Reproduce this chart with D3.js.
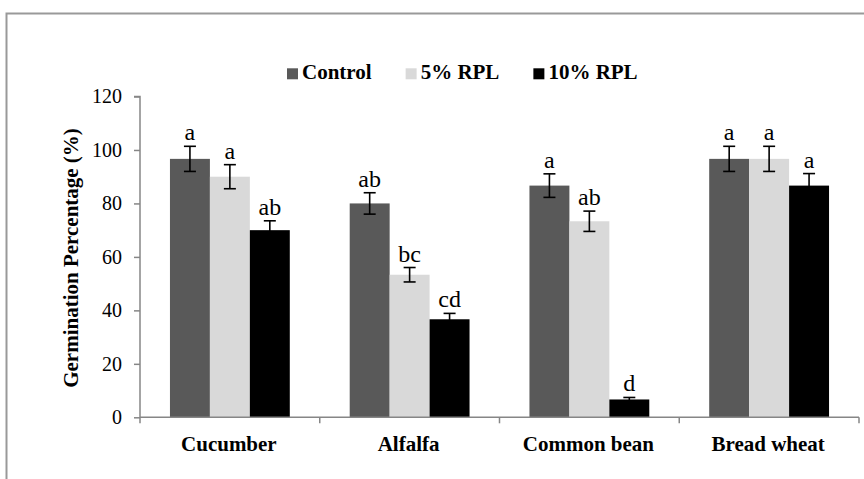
<!DOCTYPE html>
<head>
  <meta charset="utf-8">
  <script src="https://cdn.jsdelivr.net/npm/d3@7"></script>
  <style>
    body { margin:0; background:#fff; }
  </style>
</head>

<body>
  <script>
    // data
    let crops = ["Cucumber", "Alfalfa", "Common bean", "Bread wheat"];
    let series = ["Control", "5% RPL", "10% RPL"];
    let control = [96.67, 80, 86.67, 96.67];
    let rpl5 = [90, 53.33, 73.33, 96.67];
    let rpl10 = [70, 36.67, 6.67, 86.67];
    let errControl = [4.7, 4.0, 4.4, 4.7];
    let errRpl5 = [4.5, 2.7, 3.8, 4.7];
    let errRpl10 = [3.5, 2.2, 0.75, 4.5];
    let lettersControl = ["a", "ab", "a", "a"];
    let lettersRpl5 = ["a", "bc", "ab", "a"];
    let lettersRpl10 = ["ab", "cd", "d", "a"];
    let yTicks = [0, 20, 40, 60, 80, 100, 120];

    let width = 864,
        height = 479;
    let serif = "'Liberation Serif', 'Times New Roman', serif";

    let svg = d3.select("body")
      .append("svg")
      .attr("width", width)
      .attr("height", height)
      .attr("font-family", serif);

    // outer chart frame (runs off the right and bottom edges)
    svg.append("rect")
      .attr("x", 6.5).attr("y", 13.5)
      .attr("width", 900).attr("height", 500)
      .attr("fill", "none")
      .attr("stroke", "#999")
      .attr("stroke-width", 2);

    let color = d3.scaleOrdinal().domain(series).range(["#595959", "#d9d9d9", "#000000"]);

    let x0 = d3.scaleBand().domain(crops).range([140, 859]).padding(0);
    let x1 = d3.scaleBand().domain(series).range([0, x0.bandwidth()])
      .paddingInner(0).paddingOuter(0.75);
    let y = d3.scaleLinear().domain([0, 120]).range([417.3, 96.5]);

    let values = [control, rpl5, rpl10];
    let errs = [errControl, errRpl5, errRpl10];
    let letters = [lettersControl, lettersRpl5, lettersRpl10];

    let rows = [];
    crops.forEach((c, i) => {
      series.forEach((s, j) => {
        rows.push({ crop: c, series: s, value: values[j][i], err: errs[j][i], letter: letters[j][i] });
      });
    });

    // bars
    svg.selectAll(".bar")
      .data(rows)
      .enter().append("rect")
      .attr("class", "bar")
      .attr("x", d => x0(d.crop) + x1(d.series))
      .attr("y", d => y(d.value))
      .attr("width", x1.bandwidth())
      .attr("height", d => y(0) - y(d.value))
      .attr("fill", d => color(d.series));

    // error bars
    let eb = svg.selectAll(".err")
      .data(rows)
      .enter().append("g")
      .attr("class", "err")
      .attr("transform", d => "translate(" + (x0(d.crop) + x1(d.series) + x1.bandwidth() / 2) + ",0)")
      .attr("stroke", "#000")
      .attr("stroke-width", 1.6);
    eb.append("line")
      .attr("y1", d => y(d.value + d.err)).attr("y2", d => y(d.value - d.err));
    eb.append("line")
      .attr("x1", -6).attr("x2", 6)
      .attr("y1", d => y(d.value + d.err)).attr("y2", d => y(d.value + d.err));
    eb.append("line")
      .attr("x1", -6).attr("x2", 6)
      .attr("y1", d => y(d.value - d.err)).attr("y2", d => y(d.value - d.err));

    // significance letters
    svg.selectAll(".letter")
      .data(rows)
      .enter().append("text")
      .attr("class", "letter")
      .attr("x", d => x0(d.crop) + x1(d.series) + x1.bandwidth() / 2)
      .attr("y", d => y(d.value + d.err) - 6)
      .attr("text-anchor", "middle")
      .attr("font-size", 24)
      .text(d => d.letter);

    // y axis
    let yAxis = svg.append("g")
      .attr("transform", "translate(140,0)")
      .call(d3.axisLeft(y).tickValues(yTicks).tickSize(6).tickPadding(12))
      .attr("font-family", serif)
      .attr("font-size", 20);
    yAxis.selectAll("path, line").attr("stroke", "#868686").attr("stroke-width", 1.5);
    yAxis.select(".domain").attr("d", "M-6," + y(120) + "H0V" + y(0));
    yAxis.selectAll("text").attr("fill", "#000");

    // x axis
    let xAxis = svg.append("g")
      .attr("transform", "translate(0," + y(0) + ")")
      .call(d3.axisBottom(x0).tickSize(0).tickPadding(0).tickFormat(""));
    xAxis.select(".domain").attr("stroke", "#868686").attr("stroke-width", 1.5)
      .attr("d", "M140,0H859");
    xAxis.selectAll(".sep")
      .data(d3.range(crops.length + 1))
      .enter().append("line")
      .attr("class", "sep")
      .attr("x1", i => 140 + i * x0.step()).attr("x2", i => 140 + i * x0.step())
      .attr("y1", 0).attr("y2", 6)
      .attr("stroke", "#868686").attr("stroke-width", 1.5);

    svg.selectAll(".cat")
      .data(crops)
      .enter().append("text")
      .attr("class", "cat")
      .attr("x", d => x0(d) + x0.bandwidth() / 2 - 1)
      .attr("y", 450.5)
      .attr("text-anchor", "middle")
      .attr("font-size", 21)
      .attr("font-weight", "bold")
      .text(d => d);

    // y axis title
    svg.append("text")
      .attr("transform", "translate(78,258) rotate(-90)")
      .attr("text-anchor", "middle")
      .attr("font-size", 21)
      .attr("font-weight", "bold")
      .text("Germination Percentage (%)");

    // legend
    let lx = 287;
    series.forEach(s => {
      svg.append("rect")
        .attr("x", lx).attr("y", 68.3)
        .attr("width", 11).attr("height", 11)
        .attr("fill", color(s));
      let t = svg.append("text")
        .attr("x", lx + 15).attr("y", 79.3)
        .attr("font-size", 21)
        .attr("font-weight", "bold")
        .text(s);
      lx += 15 + t.node().getComputedTextLength() + 34;
    });
  </script>
</body>
